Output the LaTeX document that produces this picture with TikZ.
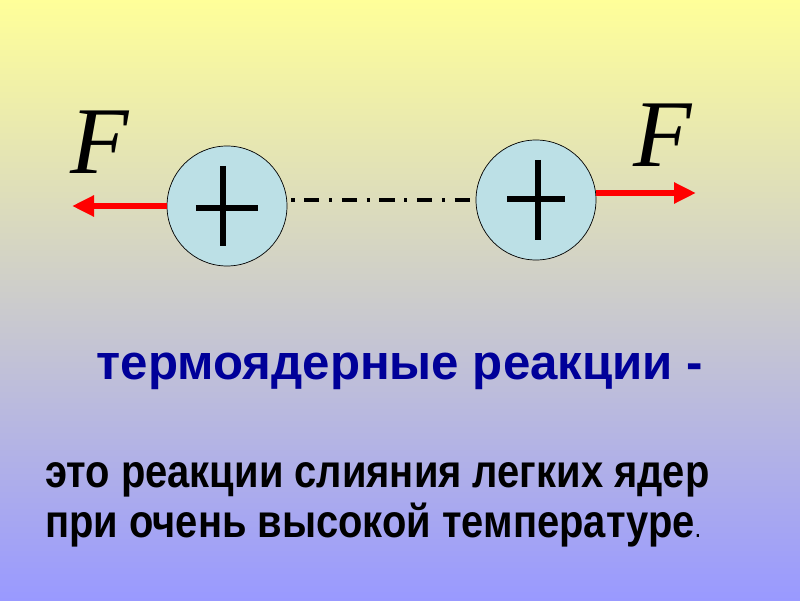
\documentclass[tikz,border=0pt]{standalone}
\usepackage{fontspec}
\setmainfont{Liberation Sans}
\newfontfamily\timesfont{Liberation Serif}
\newfontfamily\narrowfont[FakeStretch=0.86]{Liberation Sans}
\usetikzlibrary{arrows.meta}
\definecolor{bgtop}{HTML}{FFFF99}
\definecolor{bgbottom}{HTML}{9999FF}
\definecolor{nucleus}{HTML}{BCE0E6}
\definecolor{titleblue}{HTML}{000099}
\tikzset{
  nucl/.style={draw, circle, fill=nucleus, minimum size=3cm, inner sep=0pt, line width=0.5pt},
  charge/.style={line width=4.3pt},
  force/.style={red, line width=4.2pt, -{Triangle[length=5.5mm,width=5mm]}},
  bond/.style={line width=3pt, dash pattern=on 0.08cm off 0.24cm on 0.38cm off 0.24cm},
  forcelabel/.style={font=\timesfont\itshape\fontsize{68}{70}\selectfont}
}
\begin{document}
\begin{tikzpicture}
  \shade[top color=bgtop, bottom color=bgbottom] (0,0) rectangle (20,15);
  \useasboundingbox (0,0) rectangle (20,15);

  \node(nuc_left) at (5.675,9.85) [nucl] {};
  \node(nuc_right) at (13.4,10.0) [nucl] {};

  % plus signs
  \draw[charge] ([xshift=-0.78cm,yshift=-0.05cm]nuc_left.center) -- ([xshift=0.78cm,yshift=-0.05cm]nuc_left.center);
  \draw[charge] ([xshift=-0.1cm,yshift=1.0cm]nuc_left.center) -- ([xshift=-0.1cm,yshift=-1.0cm]nuc_left.center);
  \draw[charge] ([xshift=-0.72cm,yshift=0.03cm]nuc_right.center) -- ([xshift=0.72cm,yshift=0.03cm]nuc_right.center);
  \draw[charge] ([xshift=0.05cm,yshift=1.0cm]nuc_right.center) -- ([xshift=0.05cm,yshift=-1.0cm]nuc_right.center);

  \coordinate(tip_left) at (1.8,9.85);
  \coordinate(tip_right) at (17.4,10.175);
  \draw[force] (nuc_left.west) -- (tip_left);
  \draw[force] ([yshift=0.175cm]nuc_right.east) -- (tip_right);

  \draw[bond] ([xshift=0.1cm]nuc_left.east |- nuc_right.west) -- ([xshift=-0.15cm]nuc_right.west);

  \node(f_left) at (2.5,11.45) [forcelabel] {F};
  \node(f_right) at (16.575,11.625) [forcelabel] {F};

  \node(title) at (10,5.525) [anchor=base, text=titleblue, font=\bfseries\fontsize{35}{37}\selectfont] {термоядерные реакции -};
  \node(line_one) at (1.125,2.825) [anchor=base west, inner sep=0pt, font=\narrowfont\bfseries\fontsize{33}{35}\selectfont] {это реакции слияния легких ядер};
  \node(line_two) at (1.125,1.575) [anchor=base west, inner sep=0pt, font=\narrowfont\bfseries\fontsize{33}{35}\selectfont] {при очень высокой температуре{\mdseries\fontsize{20}{22}\selectfont.}};
\end{tikzpicture}
\end{document}
